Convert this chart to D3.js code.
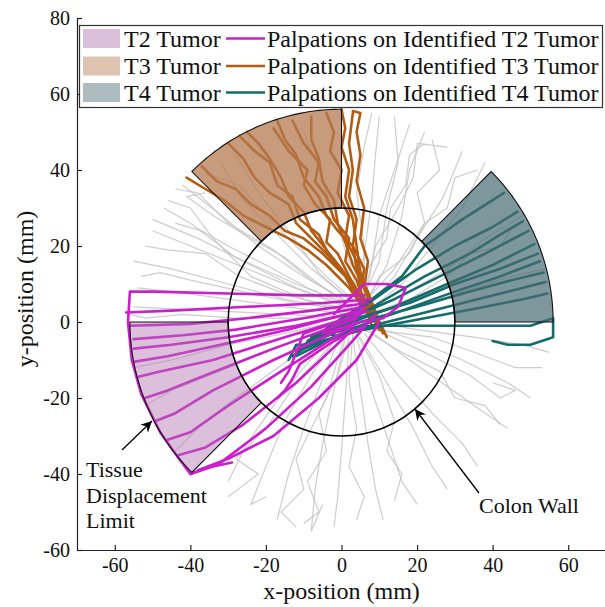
<!DOCTYPE html>
<html>
<head>
<meta charset="utf-8">
<script src="https://d3js.org/d3.v7.min.js"></script>
<style>
    body { margin: 0; background: #fff; }
    svg, svg text { font-family: 'Liberation Serif', 'DejaVu Serif', serif; }
    text { fill: #111; }
    .axis path, .axis line { stroke: #222; stroke-width: 1.2px; }
    .gray { fill: none; stroke: #c4c4c4; stroke-width: 1.2px; stroke-opacity: 0.85; stroke-linejoin: round; }
    .traj { fill: none; stroke-width: 2.6px; stroke-linejoin: round; stroke-linecap: round; }
</style>
</head>
<body>
<svg width="605" height="607"></svg>
<script>
    // axis ticks
    var xTicks = [-60, -40, -20, 0, 20, 40, 60];
    var yTicks = [-60, -40, -20, 0, 20, 40, 60, 80];

    // tumour regions: angle range (deg) between colon wall and displacement limit
    var tumorNames = ["T2 Tumor", "T3 Tumor", "T4 Tumor"];
    var tumorAngles = [[180, 225], [90, 135], [0, 45]];
    var colonRadius = 30;
    var limitRadius = 56;
    var palpNames = ["Palpations on Identified T2 Tumor", "Palpations on Identified T3 Tumor", "Palpations on Identified T4 Tumor"];

    // all other palpation paths (mm)
    var grayPaths = [
        [[4,3],[-10,8],[-25,14],[-40,20],[-50,24]],
        [[3,4],[-12,10],[-28,17],[-40,26],[-47,30]],
        [[5,2],[-15,6],[-30,10],[-45,14],[-55,16]],
        [[2,5],[-10,12],[-22,20],[-33,29],[-42,36]],
        [[4,4],[-8,11],[-18,19],[-30,26],[-38,34],[-44,35]],
        [[3,2],[-15,4],[-30,6],[-45,8],[-54,9]],
        [[4,1],[-15,2],[-35,3],[-55,4]],
        [[5,3],[-12,9],[-26,16],[-38,22],[-50,27]],
        [[2,6],[-8,14],[-16,22],[-26,32],[-32,42]],
        [[3,5],[-6,13],[-14,24],[-22,34],[-28,44]],
        [[4,2],[-14,7],[-27,12],[-36,18],[-46,19],[-52,20]],
        [[3,3],[-10,6],[-24,12],[-34,22],[-40,30],[-46,32]],
        [[4,3],[-12,5],[-26,8],[-40,11],[-48,13],[-53,12]],
        [[3,4],[-9,9],[-20,15],[-30,20],[-37,24],[-44,26]],
        [[2,4],[-6,10],[-15,17],[-24,22],[-34,28],[-41,33],[-36,34]],
        [[4,5],[-4,12],[-12,20],[-20,28],[-27,36],[-36,39]],
        [[3,1],[-12,1],[-28,1],[-42,2],[-52,1],[-56,2]],
        [[5,5],[8,15],[10,28],[14,40],[18,52]],
        [[6,4],[12,15],[16,28],[18,40],[22,50]],
        [[4,6],[6,18],[8,32],[9,44],[10,54]],
        [[6,3],[14,12],[20,22],[27,33],[32,45]],
        [[7,3],[16,10],[24,20],[32,30],[38,42]],
        [[5,5],[10,16],[12,30],[15,42],[14,54]],
        [[6,2],[18,8],[28,14],[38,22],[48,28]],
        [[7,1],[20,4],[32,8],[45,12],[54,14]],
        [[5,4],[14,14],[22,26],[20,34],[26,40],[24,48]],
        [[6,5],[9,20],[15,30],[19,38],[20,47],[28,46]],
        [[6,4],[10,12],[18,18],[22,26],[28,30],[30,38],[36,40]],
        [[5,6],[7,14],[12,22],[13,30],[17,36],[18,44],[22,47]],
        [[7,2],[18,6],[28,12],[34,18],[42,20],[46,26]],
        [[8,0],[20,-2],[35,-4],[48,-6],[55,-8]],
        [[8,-1],[20,-5],[32,-10],[44,-16],[50,-20]],
        [[7,-2],[18,-10],[28,-17],[38,-24],[44,-28]],
        [[6,-3],[15,-14],[24,-24],[32,-32],[36,-38]],
        [[5,-4],[12,-16],[19,-28],[24,-38],[28,-44]],
        [[7,-1],[22,-8],[34,-14],[42,-20],[46,-18],[40,-16]],
        [[8,-2],[24,-4],[38,-9],[46,-12],[53,-12]],
        [[6,-2],[16,-8],[26,-13],[30,-20],[38,-22],[42,-27]],
        [[4,-4],[8,-18],[12,-30],[16,-42],[20,-48]],
        [[3,-4],[5,-18],[7,-32],[9,-44],[11,-52]],
        [[2,-5],[1,-20],[0,-34],[-1,-46],[-2,-54]],
        [[1,-4],[-2,-18],[-5,-32],[-7,-44],[-8,-55],[-5,-48]],
        [[0,-3],[-5,-15],[-10,-28],[-14,-40],[-17,-52]],
        [[0,-2],[-8,-14],[-15,-26],[-20,-38],[-24,-48],[-20,-46]],
        [[-1,-2],[-10,-12],[-18,-22],[-25,-32],[-30,-42]],
        [[3,-3],[2,-16],[4,-28],[2,-38],[6,-46],[4,-52]],
        [[1,-3],[-4,-20],[-12,-36],[-10,-44],[-16,-50],[-12,-54]],
        [[4,-3],[10,-14],[14,-26],[12,-34],[16,-40],[14,-47]],
        [[2,-4],[-1,-14],[-6,-24],[-4,-34],[-9,-42],[-6,-50],[-10,-53]],
        [[0,-3],[-12,-16],[-20,-28],[-28,-36],[-22,-40],[-30,-46]],
        [[2,0],[-15,-6],[-30,-12],[-45,-18],[-52,-22]],
        [[2,1],[-15,-3],[-30,-6],[-45,-10],[-55,-12]],
        [[1,-1],[-14,-10],[-28,-20],[-38,-28],[-44,-34]],
        [[5,5],[2,16],[-2,28],[-6,40],[-10,50]],
        [[6,4],[6,20],[4,34],[6,46],[8,55]]
    ];

    // palpations on identified T2 tumour (magenta)
    var t2Paths = [
        [[8,6],[-5,5],[-25,4],[-45,3],[-57,2.5]],
        [[6,7],[-10,7],[-30,7.5],[-50,8],[-56,8],[-56.5,0],[-55.5,-10],[-53,-19],[-48,-29],[-43,-36],[-40,-40],[-34,-38],[-29,-37]],
        [[7,5],[-8,3],[-25,1],[-40,-0.5],[-56,-1]],
        [[6,4],[-10,1],[-28,-2],[-42,-3.5],[-55,-4.5]],
        [[6,3],[-12,-1],[-30,-4],[-45,-6],[-55,-7]],
        [[5,3],[-14,-2],[-32,-6],[-46,-9],[-55,-10.5]],
        [[5,2],[-15,-4],[-34,-10],[-48,-13],[-54,-14.5]],
        [[4,1],[-18,-7],[-36,-14],[-46,-18],[-52,-20]],
        [[4,0],[-18,-10],[-34,-18],[-44,-24],[-49,-26]],
        [[3,-1],[-16,-13],[-30,-22],[-40,-29],[-46,-31]],
        [[3,-2],[-12,-16],[-26,-27],[-36,-33],[-43,-35]],
        [[9,2],[2,-6],[-8,-17],[-20,-28],[-32,-37],[-40,-40]],
        [[10,0],[4,-10],[-6,-20],[-18,-30],[-30,-36],[-38,-39]],
        [[-2,2],[6,10],[12,10],[17,9],[15,4],[11,1],[5,0],[-5,-3]],
        [[6,-1],[-2,-5],[-8,-9],[-11,-11],[-13,-15],[-15,-18],[-17,-20]],
        [[7,3],[-4,-1],[-10,-3],[-12,-8],[-14,-13],[-16,-16]]
    ];

    // palpations on identified T3 tumour (brown)
    var t3Paths = [
        [[11,-3],[8,3],[5,8],[6,14],[3,20],[4,27],[2,33],[3,40],[2,47],[3,55]],
        [[12,-4],[9,2],[6,9],[7,16],[5,22],[6,30],[4,37],[5,44],[4,50],[5,55],[3,55.5]],
        [[10,-2],[6,5],[4,11],[1,16],[2,22],[-2,27],[-4,33],[-7,37],[-6,42],[-10,47],[-13,53]],
        [[9,0],[5,7],[2,12],[-1,18],[-4,21],[-3,27],[-7,31],[-10,36],[-9,40],[-14,45],[-18,51]],
        [[8,1],[4,8],[0,14],[-4,19],[-8,24],[-10,29],[-14,33],[-16,38],[-19,43],[-22,47],[-25,50]],
        [[7,2],[3,10],[-2,16],[-7,21],[-12,26],[-14,31],[-19,34],[-23,38],[-26,43],[-30,47]],
        [[6,3],[1,12],[-5,18],[-10,22],[-15,24],[-19,28],[-24,31],[-28,35],[-33,37],[-37,41]],
        [[6,4],[2,11],[-3,17],[-6,23],[-11,27],[-13,33],[-17,36],[-19,42],[-23,45],[-27,49]],
        [[9,1],[6,9],[3,15],[1,21],[-1,26],[-2,32],[-5,37],[-6,43],[-8,48],[-8,54]],
        [[8,-1],[5,8],[4,16],[1,22],[2,28],[-1,34],[0,40],[-3,45],[-2,50],[-4,55]],
        [[10,0],[7,8],[4,14],[3,20],[-1,24],[-4,28],[-6,33],[-10,38],[-12,44],[-15,48],[-17,53]],
        [[11,-2],[7,6],[5,13],[4,20],[3,27],[1,33],[2,40],[0,46],[1,51],[0,56]],
        [[7,2],[2,9],[-4,15],[-9,19],[-14,22],[-20,25],[-26,28],[-31,32],[-36,35],[-41,38]]
    ];

    // palpations on identified T4 tumour (teal)
    var t4Paths = [
        [[-12,-8],[-3,-1],[8,6],[16,12],[22,20],[32,27],[43,34]],
        [[-10,-6],[0,0],[10,7],[20,14],[30,20],[40,25],[46.5,29]],
        [[-13,-9],[-2,-2],[10,5],[22,12],[34,18],[42,23],[48,26.5]],
        [[-9,-5],[2,1],[14,6],[26,12],[38,18],[49.5,24]],
        [[-11,-7],[0,-1],[14,4],[28,10],[40,15],[51,20.5]],
        [[-8,-4],[4,1],[18,5],[30,10],[42,14],[52,18]],
        [[-12,-9],[2,-2],[16,3],[30,8],[42,12],[52.5,16]],
        [[-7,-5],[5,0],[20,4],[34,8],[45,11],[53.5,13]],
        [[-10,-7],[4,-2],[20,2],[36,6],[46,8.5],[54,10.5]],
        [[-9,-6],[6,-2],[22,1],[38,4],[48,6],[54.5,7.5]],
        [[-6,-3],[8,-1],[24,-1],[40,-1],[50,-1],[56,1],[56,-4],[50,-6],[44,-6],[40,-5]],
        [[-14,-10],[-12,-6],[-8,-6],[-4,-3],[0,-4],[4,0]]
    ];

    var fills = ["#b070b0", "#b47a50", "#476b72"];
    var fillOpacity = [0.45, 0.75, 0.7];
    var lineColors = ["#cc1fcc", "#b35c12", "#146c6c"];

    var svg = d3.select("svg");
    var x = d3.scaleLinear().domain([-70, 70]).range([77, 606]);
    var y = d3.scaleLinear().domain([-60, 80]).range([550, 18]);

    var line = d3.line().x(function (d) { return x(d[0]); }).y(function (d) { return y(d[1]); });

    var plot = svg.append("g");

    plot.selectAll(".gray").data(grayPaths).enter().append("path")
        .attr("class", "gray").attr("d", line);

    [t3Paths, t4Paths, t2Paths].forEach(function (set) {
        var i = set === t2Paths ? 0 : (set === t3Paths ? 1 : 2);
        plot.append("g").selectAll("path").data(set).enter().append("path")
            .attr("class", "traj").attr("stroke", lineColors[i]).attr("d", line);
    });

    // tumour sectors
    function sector(a) {
        var pts = [];
        d3.range(a[0], a[1] + 0.5, 1).forEach(function (t) {
            var r = t * Math.PI / 180;
            pts.push([limitRadius * Math.cos(r), limitRadius * Math.sin(r)]);
        });
        d3.range(a[1], a[0] - 0.5, -1).forEach(function (t) {
            var r = t * Math.PI / 180;
            pts.push([colonRadius * Math.cos(r), colonRadius * Math.sin(r)]);
        });
        return line(pts) + "Z";
    }
    plot.selectAll(".sector").data(tumorAngles).enter().append("path")
        .attr("class", "sector")
        .attr("d", sector)
        .attr("fill", function (d, i) { return fills[i]; })
        .attr("fill-opacity", function (d, i) { return fillOpacity[i]; })
        .attr("stroke", "#111").attr("stroke-width", 1.1);

    // colon wall
    plot.append("ellipse")
        .attr("cx", x(0)).attr("cy", y(0))
        .attr("rx", x(colonRadius) - x(0)).attr("ry", y(0) - y(colonRadius))
        .attr("fill", "none").attr("stroke", "#000").attr("stroke-width", 1.5);

    // axes
    var xAxis = svg.append("g").attr("class", "axis")
        .attr("transform", "translate(0," + y(-60) + ")")
        .call(d3.axisBottom(x).tickValues(xTicks).tickSize(-5).tickSizeOuter(0).tickPadding(8)
            .tickFormat(function (d) { return String(d); }));
    var yAxis = svg.append("g").attr("class", "axis")
        .attr("transform", "translate(" + x(-70) + ",0)")
        .call(d3.axisLeft(y).tickValues(yTicks).tickSize(-5).tickSizeOuter(0).tickPadding(7)
            .tickFormat(function (d) { return String(d); }));
    [xAxis, yAxis].forEach(function (g) {
        g.attr("font-family", null).attr("font-size", null);
        g.selectAll("text").attr("fill", "#111").style("font-size", "20px");
    });

    svg.append("text").attr("x", x(0)).attr("y", 599)
        .attr("text-anchor", "middle").style("font-size", "24px").text("x-position (mm)");
    svg.append("text").attr("transform", "translate(33," + 289 + ") rotate(-90)")
        .attr("text-anchor", "middle").style("font-size", "24px").text("y-position (mm)");

    // annotations
    svg.append("defs").append("marker")
        .attr("id", "arrow").attr("viewBox", "0 0 10 10").attr("refX", 10).attr("refY", 5)
        .attr("markerWidth", 11).attr("markerHeight", 11).attr("markerUnits", "userSpaceOnUse")
        .attr("orient", "auto")
        .append("path").attr("d", "M0,0L10,5L0,10L3,5Z").attr("fill", "#000");

    svg.append("line").attr("x1", 122).attr("y1", 450).attr("x2", 152).attr("y2", 421)
        .attr("stroke", "#000").attr("stroke-width", 1.3).attr("marker-end", "url(#arrow)");
    svg.append("line").attr("x1", 479).attr("y1", 493).attr("x2", 415).attr("y2", 409)
        .attr("stroke", "#000").attr("stroke-width", 1.3).attr("marker-end", "url(#arrow)");

    ["Tissue", "Displacement", "Limit"].forEach(function (t, i) {
        svg.append("text").attr("x", 86).attr("y", 477 + i * 25.5)
            .style("font-size", "22px").text(t);
    });
    svg.append("text").attr("x", 479).attr("y", 513).style("font-size", "22px").text("Colon Wall");

    // legend
    var lg = svg.append("g");
    lg.append("rect").attr("x", 79.5).attr("y", 25.5).attr("width", 523).attr("height", 82)
        .attr("fill", "#fff").attr("stroke", "#333").attr("stroke-width", 1.2);
    var rowY = [38.5, 66, 92.5];
    tumorNames.forEach(function (n, i) {
        lg.append("rect").attr("x", 83).attr("y", rowY[i] - 9.5).attr("width", 37).attr("height", 19)
            .attr("fill", fills[i]).attr("fill-opacity", 0.45);
        lg.append("text").attr("x", 124).attr("y", rowY[i] + 8).style("font-size", "24px").text(n);
        lg.append("line").attr("x1", 226).attr("x2", 265).attr("y1", rowY[i]).attr("y2", rowY[i])
            .attr("stroke", lineColors[i]).attr("stroke-width", 2.6);
        lg.append("text").attr("x", 267).attr("y", rowY[i] + 8).style("font-size", "24px").text(palpNames[i]);
    });
</script>
</body>
</html>
